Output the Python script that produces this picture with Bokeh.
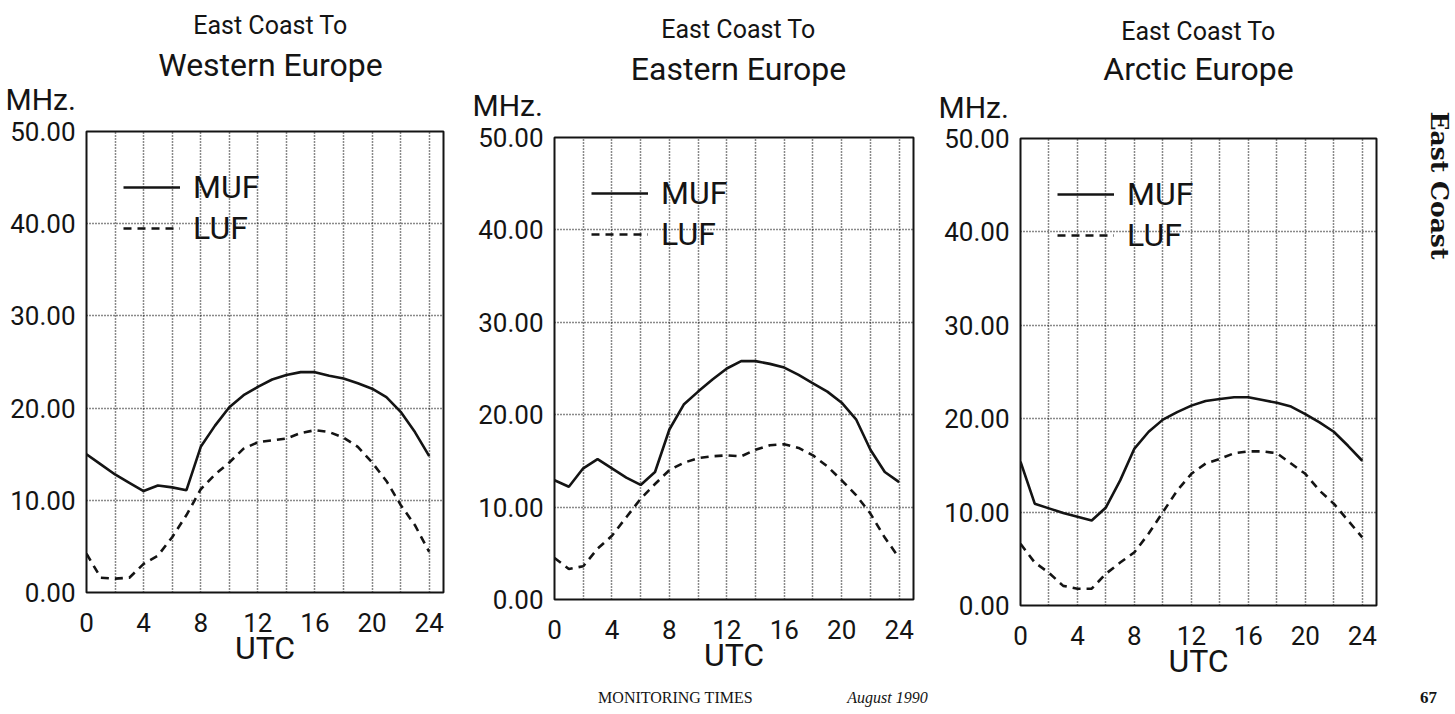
import math
from bokeh.plotting import figure
from bokeh.models import (Label, Legend, LegendItem, FixedTicker, Range1d,
                          NumeralTickFormatter)
from bokeh.layouts import row, column
from bokeh.embed import file_html
from bokeh.resources import INLINE

# ---------------- data ----------------
hours = list(range(25))
x_ticks = [0, 4, 8, 12, 16, 20, 24]
x_grid = [2, 4, 6, 8, 10, 12, 14, 16, 18, 20, 22, 24]
y_ticks = [0, 10, 20, 30, 40, 50]
y_grid = [10, 20, 30, 40]

west_muf = [15.0, 13.9, 12.8, 11.9, 11.0, 11.6, 11.4, 11.1, 15.8, 18.1, 20.1, 21.4, 22.3,
            23.1, 23.6, 23.9, 23.9, 23.5, 23.2, 22.7, 22.1, 21.2, 19.6, 17.4, 14.8]
west_luf = [4.2, 1.6, 1.5, 1.6, 3.1, 4.0, 6.0, 8.4, 11.2, 12.8, 14.1, 15.6, 16.3,
            16.5, 16.7, 17.3, 17.6, 17.4, 16.8, 15.8, 14.1, 12.1, 9.5, 7.3, 4.4]

east_muf = [12.9, 12.2, 14.2, 15.2, 14.2, 13.2, 12.4, 13.8, 18.4, 21.1, 22.5, 23.8, 25.0,
            25.8, 25.8, 25.5, 25.1, 24.3, 23.4, 22.5, 21.3, 19.5, 16.2, 13.8, 12.7]
east_luf = [4.5, 3.3, 3.6, 5.5, 6.9, 8.9, 10.9, 12.5, 14.0, 14.8, 15.3, 15.5, 15.6,
            15.5, 16.2, 16.7, 16.8, 16.4, 15.6, 14.4, 12.9, 11.3, 9.3, 6.7, 4.5]

arctic_muf = [15.4, 10.9, 10.4, 9.9, 9.5, 9.1, 10.5, 13.4, 16.8, 18.6, 19.9, 20.7, 21.4,
              21.9, 22.1, 22.3, 22.3, 22.0, 21.7, 21.3, 20.5, 19.6, 18.6, 17.1, 15.5]
arctic_luf = [6.6, 4.6, 3.5, 2.1, 1.8, 1.8, 3.4, 4.6, 5.7, 7.7, 10.0, 12.3, 14.1,
              15.2, 15.7, 16.3, 16.5, 16.5, 16.3, 15.2, 14.1, 12.3, 10.9, 9.1, 7.3]

titles_top = ["East Coast To", "East Coast To", "East Coast To"]
titles_main = ["Western Europe", "Eastern Europe", "Arctic Europe"]
y_unit = "MHz."
x_label = "UTC"
legend_labels = ["MUF", "LUF"]
footer_texts = ["MONITORING TIMES", "August 1990", "67"]
side_text = "East Coast"

FONT = "Roboto"
SERIF = "Liberation Serif"
INK = "#141414"
PAGE_W, PAGE_H = 1455, 714


def make_panel(muf, luf, w, bl, br, bt, bb):
    p = figure(width=w, height=PAGE_H, output_backend="svg", toolbar_location=None,
               x_range=Range1d(0, 25), y_range=Range1d(0, 50),
               min_border_left=bl, min_border_right=br,
               min_border_top=bt, min_border_bottom=bb)
    p.background_fill_color = "white"
    p.border_fill_color = None
    p.outline_line_color = INK
    p.outline_line_width = 2

    p.xaxis.ticker = FixedTicker(ticks=x_ticks)
    p.yaxis.ticker = FixedTicker(ticks=y_ticks)
    p.yaxis.formatter = NumeralTickFormatter(format="0.00")
    for ax in (p.xaxis[0], p.yaxis[0]):
        ax.axis_line_color = None
        ax.major_tick_line_color = None
        ax.minor_tick_line_color = None
        ax.major_tick_out = 0
        ax.major_tick_in = 0
        ax.major_label_text_font = FONT
        ax.major_label_text_font_size = "26px"
        ax.major_label_text_color = INK
    p.xaxis.major_label_standoff = 20
    p.yaxis.major_label_standoff = 11
    p.xaxis.axis_label = x_label
    p.xaxis.axis_label_text_font = FONT
    p.xaxis.axis_label_text_font_size = "32px"
    p.xaxis.axis_label_text_font_style = "normal"
    p.xaxis.axis_label_text_color = INK
    p.xaxis.axis_label_standoff = -6

    p.xgrid.ticker = FixedTicker(ticks=x_grid)
    p.ygrid.ticker = FixedTicker(ticks=y_grid)
    for g in (p.xgrid[0], p.ygrid[0]):
        g.grid_line_color = INK
        g.grid_line_dash = "1 2"
        g.grid_line_width = 1.5
        g.grid_line_alpha = 1.0

    r1 = p.line(hours, muf, line_color=INK, line_width=2.6)
    r2 = p.line(hours, luf, line_color=INK, line_width=2.6, line_dash="8 6")

    leg = Legend(items=[LegendItem(label=legend_labels[0], renderers=[r1]),
                        LegendItem(label=legend_labels[1], renderers=[r2])],
                 location="top_left", margin=37, padding=0,
                 background_fill_alpha=0, border_line_alpha=0,
                 label_text_font=FONT, label_text_font_size="32px",
                 label_text_color=INK, glyph_width=57, glyph_height=36,
                 label_height=36, spacing=3, label_standoff=13)
    p.add_layout(leg)
    return p


p1 = make_panel(west_muf, west_luf, 468, 86, 25, 131, 122)
p2 = make_panel(east_muf, east_luf, 467, 86, 22, 137, 115)
p3 = make_panel(arctic_muf, arctic_luf, 520, 85, 79, 138, 109)

# transparent text layer laid over the whole page (pixel coordinates, y downwards)
ov = figure(width=PAGE_W, height=PAGE_H, output_backend="svg", toolbar_location=None,
            x_range=Range1d(0, PAGE_W), y_range=Range1d(PAGE_H, 0),
            x_axis_type=None, y_axis_type=None, min_border=0)
ov.outline_line_color = None
ov.background_fill_color = None
ov.border_fill_color = None
ov.grid.visible = False
ov.margin = (-PAGE_H, 0, 0, 0)


def txt(x, y, s, size, font=FONT, style="normal", align="center", angle=0.0):
    ov.add_layout(Label(x=x, y=y, text=s, text_align=align, text_baseline="middle",
                        text_font=font, text_font_style=style, angle=angle,
                        text_font_size=size, text_color=INK))


for cx, y_top, y_main, mhz_x, mhz_y, t_top, t_main in [
        (270, 25, 64, 5, 99, titles_top[0], titles_main[0]),
        (738, 29, 68, 472, 105, titles_top[1], titles_main[1]),
        (1198, 31, 68, 938, 107, titles_top[2], titles_main[2])]:
    txt(cx, y_top, t_top, "25px")
    txt(cx, y_main, t_main, "32px")
    txt(mhz_x, mhz_y, y_unit, "30px", align="left")

txt(675, 697, footer_texts[0], "16px", font=SERIF)
txt(887, 697, footer_texts[1], "16px", font=SERIF, style="italic")
txt(1428, 697, footer_texts[2], "17px", font=SERIF, style="bold")
txt(1439, 185, side_text, "25px", font="DejaVu Serif", style="bold",
    angle=-math.pi / 2)

panels = row(column(p1), column(p2), column(p3), spacing=0)
layout = column(panels, ov, spacing=0)
open("out.html", "w").write(file_html(layout, INLINE))
